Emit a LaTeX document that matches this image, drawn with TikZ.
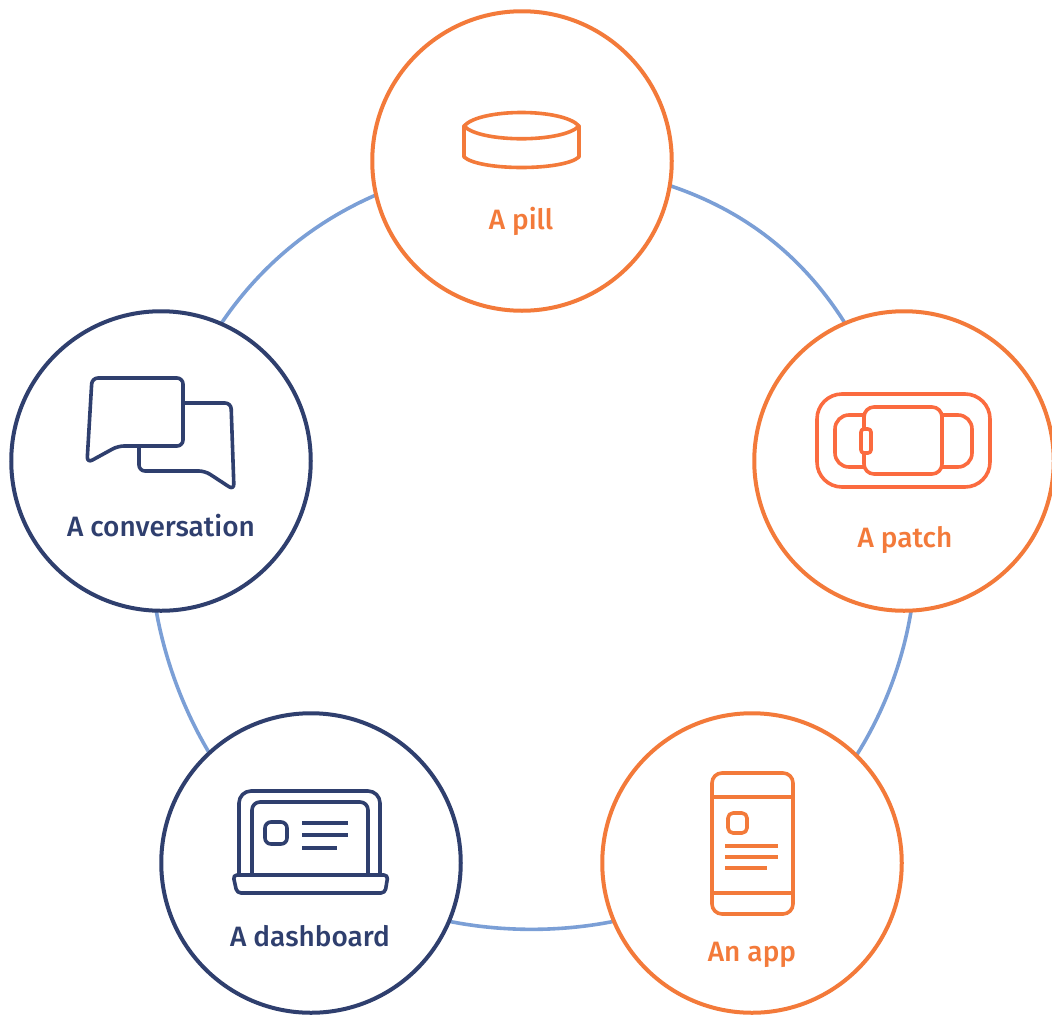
\documentclass[tikz,border=0pt]{standalone}
\usepackage{fontspec}
\setmainfont{Fira Sans Medium}
\usetikzlibrary{backgrounds}
\definecolor{orng}{HTML}{F37A3A}
\definecolor{coral}{HTML}{FB6B3F}
\definecolor{navy}{HTML}{2F3F6E}
\definecolor{ringc}{HTML}{7B9FD6}
\tikzset{
  x=1pt,y=-1pt,
  hub/.style={circle,draw,line width=4pt,fill=white,inner sep=0pt,minimum size=299.5pt},
  link/.style={draw=ringc,line width=3.6pt,bend left=36},
  icon/.style={line width=3.6pt,line join=round,line cap=round},
  lbl/.style={font=\fontsize{28}{32}\selectfont,inner sep=0pt}
}
\begin{document}
\begin{tikzpicture}
\useasboundingbox (0,0) rectangle (1052,1015);
\node[hub,draw=orng] (pill) at (522,161) {};
\node[hub,draw=orng] (patch) at (904,461) {};
\node[hub,draw=orng] (app) at (752,863) {};
\node[hub,draw=navy] (dash) at (311,863) {};
\node[hub,draw=navy] (conv) at (161,461) {};
\begin{scope}[on background layer]
\draw[link,looseness=1.10] (pill.center) to (patch.center);
\draw[link,looseness=0.91] (patch.center) to (app.center);
\draw[link,looseness=0.875] (app.center) to (dash.center);
\draw[link,looseness=0.86] (dash.center) to (conv.center);
\draw[link,looseness=1.01] (conv.center) to (pill.center);
\end{scope}
% pill icon
\begin{scope}[icon,draw=orng]
\draw (464,126) .. controls (480,108) and (563,108) .. (579,126)
      .. controls (563,143) and (480,143) .. (464,126) -- cycle;
\draw (464,126) -- (464,157) .. controls (480,171) and (563,171) .. (579,157) -- (579,126);
\end{scope}
% patch icon
\begin{scope}[icon,draw=coral]
\draw[rounded corners=25pt] (817,394) rectangle (990,487);
\draw[rounded corners=14pt] (835,415) rectangle (972,467);
\draw[rounded corners=10pt,fill=white] (864,407) rectangle (942,474);
\draw[rounded corners=3pt,fill=white] (861,429) rectangle (871,453);
\end{scope}
% app icon
\begin{scope}[icon,draw=orng]
\draw[rounded corners=10pt] (712,773) rectangle (793,914);
\draw (712,797) -- (793,797);
\draw (712,893) -- (793,893);
\draw[rounded corners=5pt] (728,813) rectangle (747,833);
\draw[line cap=butt] (725,846) -- (778,846);
\draw[line cap=butt] (725,857) -- (778,857);
\draw[line cap=butt] (725,868) -- (767,868);
\end{scope}
% dashboard icon
\begin{scope}[icon,draw=navy]
\draw[rounded corners=12pt] (239,875) -- (239,791) -- (380,791) -- (380,875);
\draw[rounded corners=8pt] (252,875) -- (252,802) -- (368,802) -- (368,875);
\draw[rounded corners=4pt] (233,875) -- (388,875) -- (385,893) -- (237,893) -- cycle;
\draw[rounded corners=6pt] (265,822) rectangle (287,844);
\draw[line cap=butt] (302,823) -- (348,823);
\draw[line cap=butt] (302,835) -- (348,835);
\draw[line cap=butt] (302,848) -- (337,848);
\end{scope}
% conversation icon
\begin{scope}[icon,draw=navy]
\draw[rounded corners=6pt] (183,403) -- (231,403) -- (234,490) -- (205,471) -- (139,471) -- (139,446);
\draw[rounded corners=6pt] (92,378) -- (183,378) -- (183,446) -- (118,446) -- (87,463) -- cycle;
\end{scope}
\node[lbl,text=orng] (lpill) at (521,221) {A pill};
\node[lbl,text=orng] (lpatch) at (905,540) {A patch};
\node[lbl,text=orng] (lapp) at (752,955) {An app};
\node[lbl,text=navy] (ldash) at (310,936) {A dashboard};
\node[lbl,text=navy] (lconv) at (161,526) {A conversation};
\end{tikzpicture}
\end{document}
